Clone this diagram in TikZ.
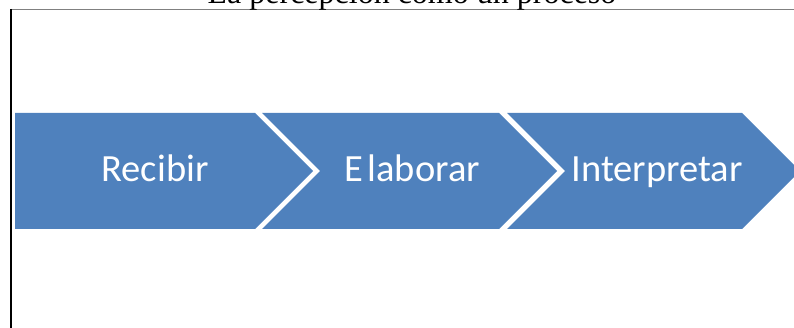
\documentclass[tikz,border=0pt]{standalone}
\usepackage{fontspec}
\setmainfont{Liberation Serif}
\newfontfamily\carlito{Carlito}
\definecolor{chevblue}{HTML}{4F81BD}
\tikzset{
  chev/.style={fill=chevblue, draw=none},
  steplabel/.style={anchor=base, text=white, inner sep=0pt, font=\carlito\fontsize{38.5}{40}\selectfont},
  titlelabel/.style={anchor=base, inner sep=0pt, font=\fontsize{32}{34}\selectfont}
}
\begin{document}
\begin{tikzpicture}[x=1pt,y=-1pt]
\useasboundingbox (0,0) rectangle (794,328);
\clip (0,0) rectangle (794,328);
% frame
\draw[gray, line width=1pt] (11,9.5) -- (794,9.5);
\draw[black, line width=2pt] (11,9) -- (11,328);
% title (clipped at top)
\node[titlelabel] (title) at (412,4) {La percepción como un proceso};
% chevrons
\fill[chev] (15,113) -- (255,113) -- (313,171) -- (255,229) -- (15,229) -- cycle;
\fill[chev] (262,113) -- (499,113) -- (557,171) -- (499,229) -- (262,229) -- (320,171) -- cycle;
\fill[chev] (507,113) -- (742,113) -- (800,171) -- (742,229) -- (507,229) -- (565,171) -- cycle;
% labels
\node[steplabel] (recibir) at (155,182) {Recibir};
\node[steplabel] (elaborar) at (412.5,182) {E\kern4pt laborar};
\node[steplabel] (interpretar) at (657,182) {Interpretar};
\end{tikzpicture}
\end{document}
